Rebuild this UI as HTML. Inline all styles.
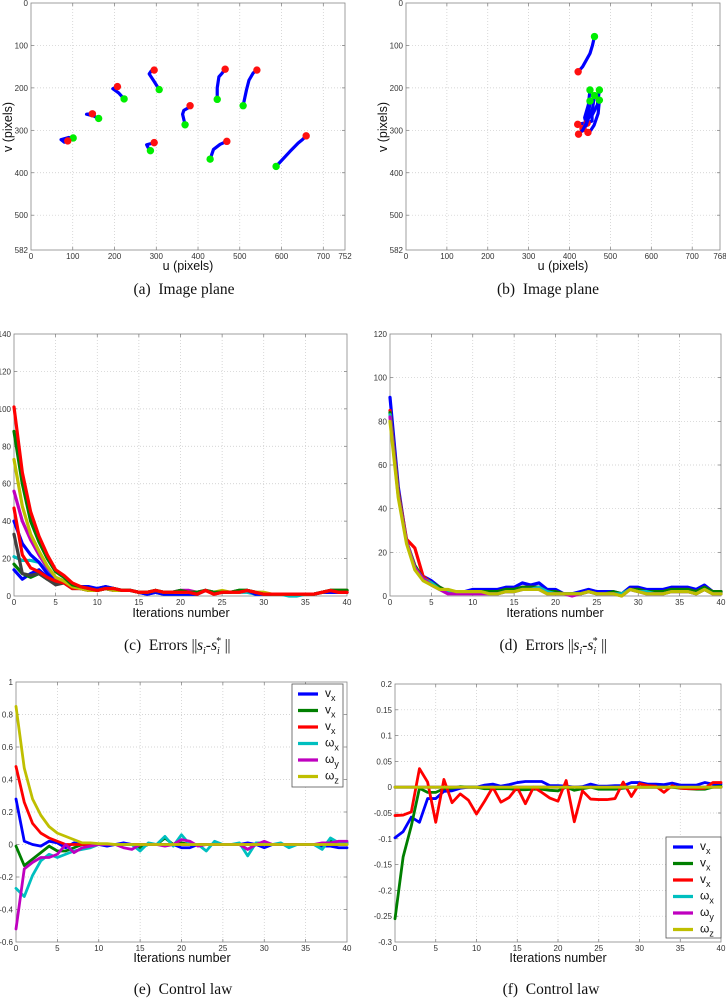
<!DOCTYPE html>
<html><head><meta charset="utf-8">
<style>
html,body{margin:0;padding:0;background:#fff;}
#wrap{position:relative;width:726px;height:1000px;overflow:hidden;}
svg{position:absolute;left:0;top:0;}
.cap{position:absolute;font-family:"Liberation Serif",serif;font-size:15.5px;color:#111;white-space:nowrap;transform:translateX(-50%);}
.cap i{font-style:italic;}
.nb{letter-spacing:-0.5px;font-size:16px;}
</style></head>
<body>
<div id="wrap">
<svg id="fig" width="726" height="1000" viewBox="0 0 726 1000"></svg>
<div class="cap" style="left:184px;top:281px">(a)&nbsp; Image plane</div>
<div class="cap" style="left:548px;top:281px">(b)&nbsp; Image plane</div>
<div class="cap" style="left:177px;top:636px">(c)&nbsp; Errors <span class="nb">||</span><i>s<sub style="font-size:10px">i</sub></i>-<i>s<sub style="font-size:10px;margin-right:-4px">i</sub><sup style="font-size:10px">*</sup></i> <span class="nb">||</span></div>
<div class="cap" style="left:553px;top:636px">(d)&nbsp; Errors <span class="nb">||</span><i>s<sub style="font-size:10px">i</sub></i>-<i>s<sub style="font-size:10px;margin-right:-4px">i</sub><sup style="font-size:10px">*</sup></i> <span class="nb">||</span></div>
<div class="cap" style="left:183px;top:981px">(e)&nbsp; Control law</div>
<div class="cap" style="left:551px;top:981px">(f)&nbsp; Control law</div>
</div>
<script>
// ---------- data ----------
const iters = [0,1,2,3,4,5,6,7,8,9,10,11,12,13,14,15,16,17,18,19,20,21,22,23,24,25,26,27,28,29,30,31,32,33,34,35,36,37,38,39,40];
// (a) trajectories: u,v path (start=green ... end=red)
const trajA_u = [[101,90,72,80,88],[162,150,133,147],[223,210,196,207],[307,295,283,288,295],[286,280,277,288,295],[369,363,366,375,381],[446,446,450,458,465],[508,516,522,532,541],[429,437,453,469],[587,620,640,650,659]];
const trajA_v = [[318,317,322,328,325],[272,266,262,261],[226,212,202,197],[204,185,167,160,158],[348,340,334,331,329],[287,262,253,248,242],[227,200,174,165,156],[242,205,182,165,158],[368,345,333,326],[385,350,330,322,313]];
const trajB_u = [[461,456,450,432,421],[450,446,437,440,420],[473,468,455,455,443],[461,456,445,440,433],[450,447,440,432,422],[473,470,460,452,445]];
const trajB_v = [[79,100,119,150,162],[205,240,270,282,286],[205,240,265,278,283],[218,250,275,290,296],[231,260,285,300,309],[229,260,288,300,305]];
// (c) errors
const errC_blue1 = [14,9,12,14,10,8,8,5,4,4,4,5,4,3,3,2,1,2,1,1,1,1,1,3,2,2,2,2,3,1,1,1,1,1,1,1,1,2,2,2,2];
const errC_green2 = [17,12,10,12,9,7,8,5,4,3,3,4,3,3,3,2,2,3,2,2,3,2,2,3,2,2,2,3,3,2,1,1,1,1,1,1,1,2,3,3,3];
const errC_cyan = [21,19,19,18,13,9,8,5,4,3,3,4,3,3,3,2,2,2,1,1,1,1,1,3,2,2,2,2,2,1,1,1,1,0,0,1,1,2,3,3,3];
const errC_gray = [33,12,11,12,9,6,7,4,4,3,3,4,3,3,3,2,2,3,2,2,2,2,2,3,2,2,2,2,3,2,1,1,1,1,1,1,1,2,3,2,2];
const errC_blue2 = [40,28,22,18,12,8,8,5,5,5,4,5,4,3,3,2,1,2,1,1,1,1,1,3,2,2,2,2,3,1,1,1,1,1,1,1,1,2,2,2,2];
const errC_red2 = [47,22,15,13,10,8,7,4,4,3,3,4,3,3,3,2,2,3,2,2,2,2,1,3,1,2,2,2,3,2,1,1,1,1,1,1,1,2,3,2,2];
const errC_magenta = [56,40,30,22,15,10,8,5,4,4,3,4,3,3,3,2,2,3,2,2,3,3,2,3,2,2,2,2,3,2,1,1,1,1,1,1,1,2,3,3,3];
const errC_yellow = [73,48,33,24,16,10,8,5,4,3,3,4,3,3,3,2,2,3,2,2,2,2,2,3,2,3,2,2,3,2,2,1,1,1,1,1,1,2,3,3,3];
const errC_green1 = [88,60,40,29,20,13,10,6,5,4,3,4,4,3,3,2,2,3,2,2,3,2,2,3,2,2,2,3,3,2,1,1,1,1,1,1,1,2,3,3,3];
const errC_red1 = [101,66,45,32,22,14,11,7,5,4,3,4,4,3,3,2,2,3,2,2,2,2,1,3,1,2,2,2,3,2,1,1,1,1,1,1,1,2,3,2,2];
// (d) errors
const errD_blue = [91,50,25,13,9,7,4,2,2,2,3,3,3,3,4,4,6,5,6,3,3,1,1,2,3,2,2,2,1,4,4,3,3,3,4,4,4,3,5,2,2];
const errD_red = [85,48,26,22,9,6,4,2,2,2,2,2,2,2,3,3,4,4,4,2,2,1,1,1,2,1,1,1,1,3,3,2,2,2,3,3,3,2,4,2,2];
const errD_green = [84,47,25,14,8,6,4,2,2,2,2,2,2,2,3,3,4,4,4,2,2,1,1,1,2,1,1,2,1,3,3,2,2,2,3,3,3,2,4,2,2];
const errD_cyan = [83,46,25,13,8,6,3,2,2,2,2,2,1,1,2,2,3,3,4,2,1,1,1,1,2,1,1,1,1,3,2,2,1,1,2,2,2,1,3,1,1];
const errD_magenta = [82,46,25,13,8,5,3,1,1,1,1,1,1,1,2,2,3,3,3,1,1,1,0,1,2,1,1,1,0,3,2,1,1,1,2,2,2,1,3,1,1];
const errD_yellow = [80,45,24,12,7,5,3,3,2,2,2,2,1,1,2,2,3,3,3,1,1,1,1,1,2,1,1,1,0,3,2,1,1,1,2,2,2,1,3,1,1];
// (e) control law
const ctlE_vx = [0.28,0.02,0,-0.01,0.02,0.01,-0.02,0.01,0,0,0,-0.01,0,0.01,0,0,0,0,0,0,-0.02,-0.02,0,0,0,0,0,0,0.01,0,-0.02,0,0,0,0,0,0,-0.01,-0.01,-0.02,-0.02];
const ctlE_vy = [-0.01,-0.13,-0.09,-0.05,-0.01,-0.04,-0.04,-0.02,0,0,0,0,0,0,0,-0.02,0,0,0.04,0,0.01,0,0,0,0,0,0,0,-0.03,0,0,0,0,0,0,0,0,0,0.02,0.01,0.01];
const ctlE_vz = [0.48,0.26,0.13,0.07,0.04,0.02,0,0,0,0,0,0,0,0,0,0,0,0,0,0,0,0,0,0,0,0,0,0,0,0,0,0,0,0,0,0,0,0,0,0,0];
const ctlE_wx = [-0.27,-0.32,-0.19,-0.1,-0.06,-0.08,-0.06,-0.04,-0.03,-0.02,0,0,0,0,0,-0.04,0.01,0,0.05,-0.01,0.06,0,0,-0.04,0.02,0,0,0.01,-0.07,0.01,0.01,0,0.01,-0.02,0,0,0,-0.03,0.04,0.01,0.01];
const ctlE_wy = [-0.52,-0.15,-0.11,-0.08,-0.08,-0.06,0,-0.05,-0.02,-0.01,0,0,0,-0.02,-0.03,0,0,0,-0.01,0,0.03,0.02,-0.01,0,0,0,0,0,-0.03,0,0.02,0,0,0,0,0,0,0.01,0.01,0.02,0.02];
const ctlE_wz = [0.85,0.47,0.28,0.18,0.11,0.07,0.05,0.03,0.01,0.01,0.005,0.005,0,0,0,0,0,0,0,0,0,0,0,0,0,0,0,0,0,0,0,0,0,0,0,0,0,0,0,0,0];
// (f) control law
const ctlF_vx = [-0.098,-0.086,-0.058,-0.068,-0.022,-0.022,-0.008,-0.007,-0.002,0,0,0.004,0.006,0.002,0.005,0.009,0.011,0.011,0.011,0.003,0.003,0.002,0,0.001,0.006,0.002,0.002,0.003,0.003,0.009,0.009,0.006,0.006,0.005,0.008,0.004,0.004,0.004,0.009,0.006,0.006];
const ctlF_vy = [-0.255,-0.135,-0.075,-0.002,-0.01,-0.01,-0.003,-0.002,0.001,0,0,-0.003,-0.003,-0.003,-0.003,-0.005,-0.005,-0.004,-0.004,-0.006,-0.007,0,-0.006,-0.003,0,-0.004,-0.004,-0.004,-0.002,0,0,0,0,0,0,-0.002,-0.003,-0.004,-0.004,0,0.002];
const ctlF_vz = [-0.055,-0.054,-0.048,0.036,0.01,-0.068,0.015,-0.03,-0.013,-0.025,-0.052,-0.027,0,-0.029,-0.02,0,-0.032,0,-0.01,-0.021,-0.027,0.013,-0.067,-0.007,-0.023,-0.024,-0.024,-0.022,0.01,-0.018,0.007,0.003,0.002,-0.01,0.003,-0.002,-0.003,-0.003,-0.002,0.009,0.009];
const ctlF_wx = [0,0,0,0,0,0,0,0,0,0,0,0,0,0,0,0,0,0,0,0,0,0,0,0,0,0,0,0,0,0,0,0,0,0,0,0,0,0,0,0,0];
const ctlF_wy = [0,0,0,0,0,0,0,0,0,0,0,0,0,0,0,0,0,0,0,0,0,0,0,0,0,0,0,0,0,0,0,0,0,0,0,0,0,0,0,0,0];
const ctlF_wz = [0,0,0,0,0,0,0,0,0,0,0,0,0,0,0,0,0,0,0,0,0,0,0,0,0,0,0,0,0,0,0,0,0,0,0,0,0,0,0,0,0];
// tick labels
const ticksA_x = [0,100,200,300,400,500,600,700,752];
const ticksA_y = [0,100,200,300,400,500,582];
const ticksB_x = [0,100,200,300,400,500,600,700,768];
const ticksB_y = [0,100,200,300,400,500,582];
const ticksIter = [0,5,10,15,20,25,30,35,40];
const ticksC_y = [0,20,40,60,80,100,120,140];
const ticksD_y = [0,20,40,60,80,100,120];
const ticksE_y = [-0.6,-0.4,-0.2,0,0.2,0.4,0.6,0.8,1];
const ticksF_y = [-0.3,-0.25,-0.2,-0.15,-0.1,-0.05,0,0.05,0.1,0.15,0.2];
const legendBase = ['v','v','v','ω','ω','ω'];
const legendSub = ['x','x','x','x','y','z'];

const BLUE='#0000ff',GREEN='#007f00',RED='#ff0000',CYAN='#00bfbf',MAG='#bf00bf',YEL='#bfbf00',GRAY='#404040';
const NS='http://www.w3.org/2000/svg';
const fig=document.getElementById('fig');
function el(tag,attrs,parent){const e=document.createElementNS(NS,tag);for(const k in attrs)e.setAttribute(k,attrs[k]);(parent||fig).appendChild(e);return e;}

function makeAxes(name,box,xmin,xmax,ymin,ymax,yrev,xt,yt,fmtY){
  const g=el('g',{});
  
  
  const sx=v=>box.x0+(v-xmin)/(xmax-xmin)*(box.x1-box.x0);
  const sy=v=>yrev? box.y0+(v-ymin)/(ymax-ymin)*(box.y1-box.y0) : box.y1-(v-ymin)/(ymax-ymin)*(box.y1-box.y0);
  for(const t of xt){
    const x=sx(t);
    if(t>xmin && t<xmax){
      const gl=el('line',{x1:x,y1:box.y0,x2:x,y2:box.y1,stroke:'#c8c8c8','stroke-width':0.7,'stroke-dasharray':'1,2'},g);
      
      
      el('line',{x1:x,y1:box.y1,x2:x,y2:box.y1-3,stroke:'#777','stroke-width':0.7},g);
      el('line',{x1:x,y1:box.y0,x2:x,y2:box.y0+3,stroke:'#777','stroke-width':0.7},g);
    }
    const tl=el('text',{x:x,y:box.y1+9,'font-size':8,'font-family':'Liberation Sans, sans-serif','text-anchor':'middle',fill:'#333'},g);
    
    
    tl.textContent=t;
  }
  for(const t of yt){
    const y=sy(t);
    if(t>ymin && t<ymax){
      const gl=el('line',{x1:box.x0,y1:y,x2:box.x1,y2:y,stroke:'#c8c8c8','stroke-width':0.7,'stroke-dasharray':'1,2'},g);
      
      
      el('line',{x1:box.x0,y1:y,x2:box.x0+3,y2:y,stroke:'#777','stroke-width':0.7},g);
      el('line',{x1:box.x1,y1:y,x2:box.x1-3,y2:y,stroke:'#777','stroke-width':0.7},g);
    }
    const tl=el('text',{x:box.x0-3,y:y+3,'font-size':8,'font-family':'Liberation Sans, sans-serif','text-anchor':'end',fill:'#333'},g);
    
    
    tl.textContent=fmtY?fmtY(t):t;
  }
  const fr=el('rect',{x:box.x0,y:box.y0,width:box.x1-box.x0,height:box.y1-box.y0,fill:'none',stroke:'#888','stroke-width':0.8},g);
  
  
  return {g,sx,sy};
}
function label(txt,x,y,rot,name){
  const t=el('text',{x:x,y:y,'font-size':12.5,'font-family':'Liberation Sans, sans-serif','text-anchor':'middle',fill:'#111',transform:rot?`rotate(-90 ${x} ${y})`:''});
  
  
  t.textContent=txt;
}
function series(ax,xs,ys,color,w,name){
  const d=xs.map((x,i)=>(i?'L':'M')+ax.sx(x).toFixed(2)+' '+ax.sy(ys[i]).toFixed(2)).join('');
  const p=el('path',{d:d,fill:'none',stroke:color,'stroke-width':w,'stroke-linejoin':'round','stroke-linecap':'round'},ax.g);
  
  
}
function dot(ax,u,v,color,name){
  const c=el('circle',{cx:ax.sx(u),cy:ax.sy(v),r:3.7,fill:color},ax.g);
  
  
}
function traj(ax,us,vs,prefix){
  us.forEach((u,i)=>{
    series(ax,u,vs[i],BLUE,3.2,prefix+'-trajectory');
    dot(ax,u[0],vs[i][0],'#00ee00',prefix+'-start-point');
    dot(ax,u[u.length-1],vs[i][vs[i].length-1],'#ff1010',prefix+'-end-point');
  });
}
function legend(ax,x0,y0,w,h,lx,ly,colors,name){
  const g=el('g',{},ax.g);
  
  
  el('rect',{x:x0,y:y0,width:w,height:h,fill:'#fff',stroke:'#555','stroke-width':0.8},g);
  colors.forEach((c,i)=>{
    const y=ly+i*16.5;
    const ln=el('line',{x1:lx,y1:y,x2:lx+20,y2:y,stroke:c,'stroke-width':3.2},g);
    
    
    const t=el('text',{x:lx+27,y:y+3,'font-size':12,'font-family':'Liberation Sans, sans-serif',fill:'#111'},g);
    
    
    t.textContent=legendBase[i];
    const s=el('tspan',{dy:4,'font-size':9},t);
    s.textContent=legendSub[i];
  });
}
// (a)
const A=makeAxes('plot-a-image-plane',{x0:31,x1:345,y0:3,y1:250},0,752,0,582,true,ticksA_x,ticksA_y);
traj(A,trajA_u,trajA_v,'a');
label('u (pixels)',188,270,false,'x-axis-title-a');
label('v (pixels)',12,127,true,'y-axis-title-a');
// (b)
const B=makeAxes('plot-b-image-plane',{x0:406,x1:720,y0:3,y1:250},0,768,0,582,true,ticksB_x,ticksB_y);
traj(B,trajB_u,trajB_v,'b');
label('u (pixels)',563,270,false,'x-axis-title-b');
label('v (pixels)',387,127,true,'y-axis-title-b');
// (c)
const C=makeAxes('plot-c-errors',{x0:14,x1:347,y0:334,y1:596},0,40,0,140,false,ticksIter,ticksC_y);
[[errC_blue1,BLUE],[errC_green2,GREEN],[errC_cyan,CYAN],[errC_gray,GRAY],[errC_blue2,BLUE],[errC_red2,RED],[errC_magenta,MAG],[errC_yellow,YEL],[errC_green1,GREEN],[errC_red1,RED]].forEach(([s,c])=>series(C,iters,s,c,3.2,'error-series-c'));
label('Iterations number',181,617,false,'x-axis-title-c');
// (d)
const D=makeAxes('plot-d-errors',{x0:390,x1:721,y0:334,y1:596},0,40,0,120,false,ticksIter,ticksD_y);
[[errD_blue,BLUE],[errD_red,RED],[errD_green,GREEN],[errD_cyan,CYAN],[errD_magenta,MAG],[errD_yellow,YEL]].forEach(([s,c])=>series(D,iters,s,c,3.2,'error-series-d'));
label('Iterations number',555,617,false,'x-axis-title-d');
// (e)
const E=makeAxes('plot-e-control-law',{x0:16,x1:347,y0:682,y1:942},0,40,-0.6,1,false,ticksIter,ticksE_y);
[[ctlE_vx,BLUE],[ctlE_vy,GREEN],[ctlE_vz,RED],[ctlE_wx,CYAN],[ctlE_wy,MAG],[ctlE_wz,YEL]].forEach(([s,c])=>series(E,iters,s,c,2.8,'control-series-e'));
legend(E,292,684,51,103,298,694,[BLUE,GREEN,RED,CYAN,MAG,YEL],'legend-e');
label('Iterations number',182,962,false,'x-axis-title-e');
// (f)
const F=makeAxes('plot-f-control-law',{x0:395,x1:721,y0:684,y1:942},0,40,-0.3,0.2,false,ticksIter,ticksF_y);
[[ctlF_wx,CYAN],[ctlF_wy,MAG],[ctlF_vx,BLUE],[ctlF_vy,GREEN],[ctlF_vz,RED],[ctlF_wz,YEL]].forEach(([s,c])=>series(F,iters,s,c,2.8,'control-series-f'));
legend(F,666,837,55,101,673,847,[BLUE,GREEN,RED,CYAN,MAG,YEL],'legend-f');
label('Iterations number',558,962,false,'x-axis-title-f');
</script>
</body></html>
